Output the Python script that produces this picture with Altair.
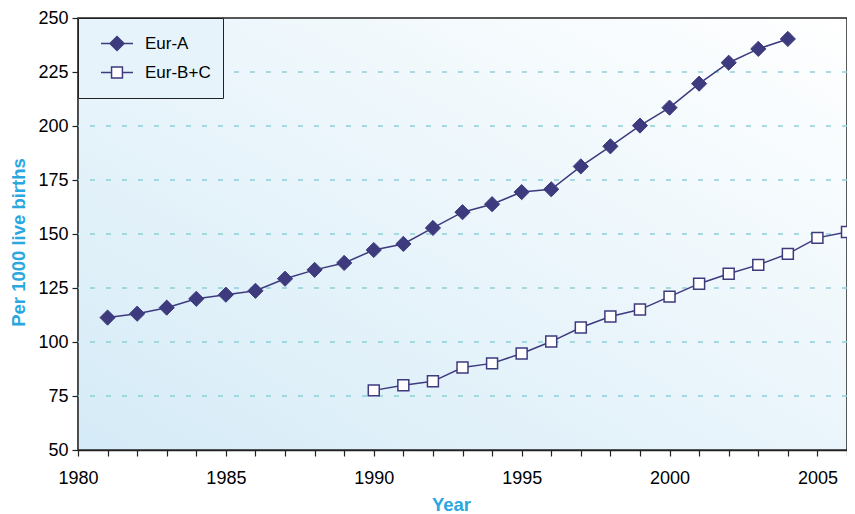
import altair as alt
import pandas as pd

years_a = list(range(1981, 2005))
eur_a = [111.3, 113.1, 115.9, 120.0, 121.9, 123.7, 129.3, 133.4, 136.6, 142.6,
         145.4, 152.8, 160.1, 163.8, 169.4, 170.7, 181.3, 190.6, 200.2, 208.5,
         219.6, 229.3, 235.7, 240.3]
years_bc = list(range(1990, 2007))
eur_bc = [77.6, 80.0, 81.8, 88.2, 90.1, 94.7, 100.2, 106.7, 111.8, 115.0,
          121.0, 127.0, 131.6, 135.7, 140.8, 148.2, 150.9]
series = ["Eur-A", "Eur-B+C"]
y_ticks = [50, 75, 100, 125, 150, 175, 200, 225, 250]
grid_values = [75, 100, 125, 150, 175, 200, 225]
x_ticks = list(range(1980, 2007))

NAVY = "#3d3a7e"
TITLE = "#2aa7df"
FONT = "Liberation Sans"

df = pd.concat([
    pd.DataFrame({"year": years_a, "value": eur_a, "series": series[0]}),
    pd.DataFrame({"year": years_bc, "value": eur_bc, "series": series[1]}),
], ignore_index=True)

x_enc = alt.X("year:Q", scale=alt.Scale(domain=[1980, 2006], nice=False),
              axis=alt.Axis(values=x_ticks, format="d",
                            labelExpr="datum.value % 5 == 0 ? datum.label : ''",
                            labelOverlap=False, labelFlush=False,
                            labelPadding=13,
                            title="Year", titleX=373, titleY=54,
                            titleBaseline="middle", grid=False))
y_enc = alt.Y("value:Q", scale=alt.Scale(domain=[50, 250], nice=False, zero=False),
              axis=alt.Axis(values=y_ticks, title="Per 1000 live births",
                            labelOverlap=False, labelFlush=False, labelPadding=4,
                            titleX=-60, titleY=224, titleBaseline="middle",
                            grid=False))

base = alt.Chart(df)

gradient = alt.LinearGradient(gradient="linear",
                              stops=[alt.GradientStop(offset=0, color="#d5ebf7"),
                                     alt.GradientStop(offset=1, color="#ffffff")],
                              x1=0, y1=1, x2=1, y2=0)

bg = alt.Chart(pd.DataFrame({"k": [0]})).mark_rect(
    fill=gradient, stroke="#222222", strokeWidth=1.5).encode(
    x=alt.value(0), x2=alt.value("width"), y=alt.value(0), y2=alt.value("height"))

grid = alt.Chart(pd.DataFrame({"value": grid_values})).mark_rule(
    color="#8fd0d6", strokeDash=[5, 11], strokeWidth=1.5).encode(y=y_enc)

line = base.mark_line(stroke=NAVY, strokeWidth=1.5).encode(
    x=x_enc, y=y_enc, detail="series:N")

pts_a = base.transform_filter(alt.datum.series == series[0]).mark_point(
    shape="diamond", filled=True, fill=NAVY, stroke=NAVY, strokeWidth=1,
    size=230, opacity=1).encode(x=x_enc, y=y_enc)

pts_bc = base.transform_filter(alt.datum.series == series[1]).mark_point(
    shape="square", filled=True, fill="white", stroke=NAVY, strokeWidth=1.5,
    size=120, opacity=1).encode(x=x_enc, y=y_enc)

path_a = "M-1,0H-0.44M0.44,0H1M-0.44,0L0,-0.44L0.44,0L0,0.44Z"
path_bc = "M-1,0H-0.34M0.34,0H1M-0.34,-0.34H0.34V0.34H-0.34Z"

legend = alt.Legend(title=None, orient="top-left", offset=0,
                    padding=12, symbolOffset=10, clipHeight=27,
                    symbolSize=1024, symbolStrokeWidth=1.5,
                    labelFontSize=17, labelFont=FONT,
                    labelColor="black", labelOffset=11,
                    strokeColor="#222222", fillColor="#e6f3fa")

legend_layer = base.transform_filter("false").mark_point(filled=True, opacity=1).encode(
    x=x_enc, y=y_enc,
    shape=alt.Shape("series:N", scale=alt.Scale(domain=series, range=[path_a, path_bc]),
                    legend=legend),
    fill=alt.Fill("series:N", scale=alt.Scale(domain=series, range=[NAVY, "white"]),
                  legend=legend),
    stroke=alt.Stroke("series:N", scale=alt.Scale(domain=series, range=[NAVY, NAVY]),
                      legend=legend),
)

chart = alt.layer(bg, grid, line, pts_bc, pts_a, legend_layer).properties(
    width=769, height=432,
    autosize=alt.AutoSizeParams(type="none"),
    padding={"left": 70, "top": 10, "right": 0, "bottom": 64},
).configure_view(
    stroke=None,
).configure_axis(
    labelFont=FONT, labelFontSize=18, labelColor="black", labelOverlap=False,
    titleFont=FONT, titleFontSize=18.5, titleFontWeight="bold",
    titleColor=TITLE, domainColor="#222222", domainWidth=1.5,
    tickColor="#222222", tickSize=6, tickWidth=1.2,
)

chart.save("out.html", embed_options={"renderer": "svg", "actions": False})
